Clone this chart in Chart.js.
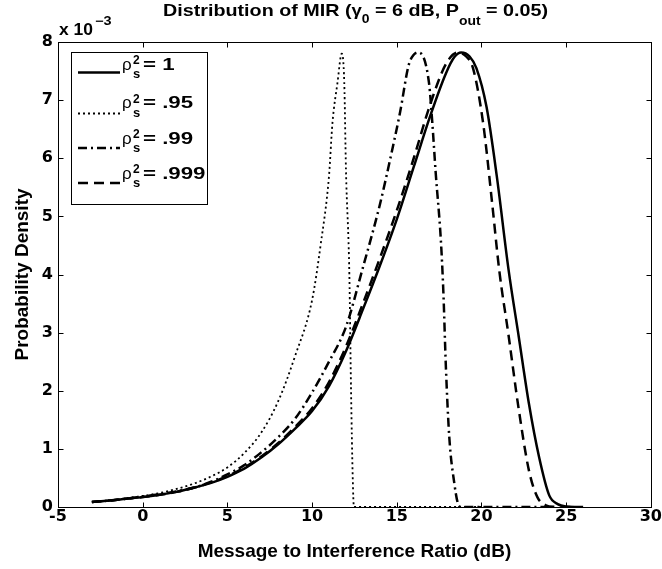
<!DOCTYPE html>
<html>
<head>
<meta charset="utf-8">
<script src="https://cdn.jsdelivr.net/npm/chart.js@4.4.1/dist/chart.umd.min.js"></script>
<style>
  html, body { margin: 0; padding: 0; background: #fff; }
  canvas { display: block; }
</style>
</head>
<body>
<canvas id="mirChart" width="662" height="569"></canvas>
<script>
// Значения кривых (плотность в единицах 10^-3)
const rho1X = [-3, -2, -1, 0, 1, 2, 3, 4, 5, 6, 7, 8, 9, 10, 11, 12, 13, 14, 15, 16, 17, 17.9, 18.4, 18.8, 19.3, 19.7, 20.3, 20.9, 21.6, 22.2, 22.8, 23.4, 24, 24.5, 25, 26];
const rho1Y = [0.086, 0.11, 0.14, 0.17, 0.21, 0.26, 0.33, 0.41, 0.52, 0.66, 0.85, 1.08, 1.35, 1.65, 2.08, 2.68, 3.4, 4.15, 4.95, 5.85, 6.75, 7.46, 7.74, 7.82, 7.75, 7.55, 6.88, 5.7, 4.08, 2.93, 1.78, 0.86, 0.2, 0.05, 0.01, 0];

const rho95X = [-3, -2, -1, 0, 1, 2, 3, 4, 5, 6, 7, 8, 9, 10, 10.5, 11, 11.2, 11.5, 11.75, 11.9, 12.0, 12.2, 12.3, 12.4, 12.47, 20];
const rho95Y = [0.086, 0.11, 0.15, 0.19, 0.24, 0.31, 0.4, 0.52, 0.68, 0.93, 1.28, 1.82, 2.6, 3.56, 4.5, 5.7, 6.6, 7.3, 7.8, 7.3, 5.8, 4.0, 2.0, 0.5, 0, 0];

const rho99X = [-3, -2, -1, 0, 1, 2, 3, 4, 5, 6, 7, 8, 9, 10, 11, 12, 13, 14, 14.6, 15.2, 15.7, 16.0, 16.3, 16.9, 17.1, 17.3, 17.6, 17.75, 17.9, 18.1, 18.4, 18.6, 18.8, 24];
const rho99Y = [0.086, 0.11, 0.14, 0.18, 0.22, 0.27, 0.33, 0.43, 0.56, 0.72, 0.94, 1.2, 1.52, 1.97, 2.5, 3.1, 4.12, 5.2, 5.97, 6.8, 7.6, 7.78, 7.82, 7.3, 6.6, 5.74, 4.6, 3.7, 2.4, 1.2, 0.4, 0.07, 0, 0];

const rho999X = [-3, -2, -1, 0, 1, 2, 3, 4, 5, 6, 7, 8, 9, 10, 11, 12, 13, 14, 15, 16, 17, 17.9, 18.6, 19.1, 19.5, 20.1, 20.65, 21.05, 21.6, 22.2, 22.8, 23.3, 23.8, 24.3, 25.5];
const rho999Y = [0.086, 0.11, 0.14, 0.17, 0.21, 0.26, 0.33, 0.42, 0.53, 0.68, 0.87, 1.1, 1.38, 1.7, 2.15, 2.76, 3.5, 4.28, 5.1, 6.0, 6.95, 7.62, 7.82, 7.75, 7.55, 6.6, 5.17, 4.07, 2.95, 1.68, 0.63, 0.17, 0.03, 0.005, 0];

// Подписи легенды (после "ρ")
const legendValues = ['1', '.95', '.99', '.999'];

// Оси
const xMin = -5, xMax = 30, xStep = 5;
const yMin = 0, yMax = 8, yStep = 1;

const SANS = "'Liberation Sans', Arial, sans-serif";

function toPoints(xs, ys) {
  return xs.map((x, i) => ({ x: x, y: ys[i] }));
}

// Стили линий в духе MATLAB
const lineStyles = [
  { dash: [], width: 2.5 },          // сплошная
  { dash: [2, 3], width: 1.8 },      // точки
  { dash: [9, 4, 2, 4], width: 2.5 },// штрих-пунктир
  { dash: [10, 6], width: 2.5 }      // штрихи
];

function makeDataset(label, xs, ys, style) {
  return {
    label: label,
    data: toPoints(xs, ys),
    borderColor: '#000',
    backgroundColor: '#000',
    borderWidth: style.width,
    borderDash: style.dash,
    pointRadius: 0,
    cubicInterpolationMode: 'monotone',
    fill: false
  };
}

// Текст с индексами, растянутый по ширине
function drawParts(ctx, parts, x, baseline, width) {
  let natural = 0;
  parts.forEach(p => { ctx.font = p.font; natural += ctx.measureText(p.text).width; });
  const sx = width ? width / natural : 1;
  ctx.save();
  ctx.translate(x, baseline);
  ctx.scale(sx, 1);
  let cx = 0;
  parts.forEach(p => {
    ctx.font = p.font;
    ctx.fillText(p.text, cx, p.dy || 0);
    cx += ctx.measureText(p.text).width;
  });
  ctx.restore();
}

const matlabFrame = {
  id: 'matlabFrame',
  beforeDraw(chart) {
    const ctx = chart.ctx;
    ctx.save();
    ctx.fillStyle = '#fff';
    ctx.fillRect(0, 0, chart.width, chart.height);
    ctx.restore();
  },
  afterDraw(chart) {
    const { ctx, chartArea: a, scales } = chart;
    const L = Math.round(a.left) + 0.5, R = Math.round(a.right) + 0.5;
    const T = Math.round(a.top) + 0.5, B = Math.round(a.bottom) + 0.5;
    ctx.save();
    ctx.strokeStyle = '#000';
    ctx.lineWidth = 1;
    ctx.setLineDash([]);
    ctx.strokeRect(L, T, R - L, B - T);

    // Засечки внутрь, на всех четырёх сторонах
    const tick = 5;
    ctx.beginPath();
    scales.x.ticks.forEach(t => {
      const px = Math.round(scales.x.getPixelForValue(t.value)) + 0.5;
      ctx.moveTo(px, B); ctx.lineTo(px, B - tick);
      ctx.moveTo(px, T); ctx.lineTo(px, T + tick);
    });
    scales.y.ticks.forEach(t => {
      const py = Math.round(scales.y.getPixelForValue(t.value)) + 0.5;
      ctx.moveTo(L, py); ctx.lineTo(L + tick, py);
      ctx.moveTo(R, py); ctx.lineTo(R - tick, py);
    });
    ctx.stroke();

    ctx.fillStyle = '#000';
    ctx.textBaseline = 'alphabetic';
    ctx.textAlign = 'left';

    // Заголовок
    const big = 'bold 17px ' + SANS, small = 'bold 12px ' + SANS;
    drawParts(ctx, [
      { text: 'Distribution of MIR (', font: big },
      { text: 'γ', font: 'bold 16px ' + SANS },
      { text: '0', font: small, dy: 6.5 },
      { text: ' = 6 dB, P', font: big },
      { text: 'out', font: small, dy: 9 },
      { text: ' = 0.05)', font: big }
    ], 163, 16, 385);

    // Множитель оси Y
    drawParts(ctx, [{ text: 'x 10', font: 'bold 16px ' + SANS }], 59, 35, 34);
    drawParts(ctx, [{ text: '−3', font: 'bold 12px ' + SANS }], 95, 25, 16.5);

    // Легенда
    const box = { left: 71, top: 52, right: 207, bottom: 204 };
    ctx.fillStyle = '#fff';
    ctx.fillRect(box.left, box.top, box.right - box.left, box.bottom - box.top);
    ctx.strokeRect(box.left + 0.5, box.top + 0.5, box.right - box.left, box.bottom - box.top);
    ctx.fillStyle = '#000';

    const baselines = [69.5, 108, 143.5, 178.5];
    const lineYs = [72.5, 113.5, 148, 183];
    ctx.font = 'bold 16px ' + SANS;
    const sx = 62.5 / ctx.measureText('= .999').width;
    chart.data.datasets.forEach((ds, i) => {
      ctx.save();
      ctx.lineWidth = ds.borderWidth;
      ctx.setLineDash(ds.borderDash);
      ctx.beginPath();
      ctx.moveTo(78, lineYs[i]);
      ctx.lineTo(120, lineYs[i]);
      ctx.stroke();
      ctx.restore();

      const b = baselines[i];
      ctx.font = '17px ' + SANS;
      ctx.fillText('ρ', 122, b);
      ctx.font = 'bold 12px ' + SANS;
      ctx.fillText('2', 133, b - 5.5);
      ctx.font = 'bold 13px ' + SANS;
      ctx.fillText('s', 133, b + 8.5);
      ctx.save();
      ctx.translate(143, b);
      ctx.scale(sx, 1);
      ctx.font = 'bold 16px ' + SANS;
      ctx.fillText('= ' + legendValues[i], 0, 0);
      ctx.restore();
    });
    ctx.restore();
  }
};

const tickFont = { family: 'DejaVu Sans', size: 16, weight: 'bold' };
const titleFont = { family: 'Liberation Sans', size: 19, weight: 'bold' };

const ctx = document.getElementById('mirChart').getContext('2d');
const mirChart = new Chart(ctx, {
  type: 'line',
  data: {
    datasets: [
      makeDataset('rho^2 = 1', rho1X, rho1Y, lineStyles[0]),
      makeDataset('rho^2 = .95', rho95X, rho95Y, lineStyles[1]),
      makeDataset('rho^2 = .99', rho99X, rho99Y, lineStyles[2]),
      makeDataset('rho^2 = .999', rho999X, rho999Y, lineStyles[3])
    ]
  },
  options: {
    responsive: false,
    animation: false,
    events: [],
    layout: { padding: { top: 42, right: 11, left: 0, bottom: 0 } },
    plugins: {
      legend: { display: false },
      tooltip: { enabled: false }
    },
    scales: {
      x: {
        type: 'linear',
        min: xMin,
        max: xMax,
        ticks: { stepSize: xStep, color: '#000', font: tickFont, padding: 0, maxRotation: 0 },
        grid: { display: false, drawTicks: false },
        border: { display: false },
        title: {
          display: true,
          text: 'Message to Interference Ratio (dB)',
          color: '#000',
          font: titleFont,
          padding: { top: 0, bottom: 6 }
        },
        afterFit: scale => { scale.height = 62; }
      },
      y: {
        type: 'linear',
        min: yMin,
        max: yMax,
        ticks: { stepSize: yStep, color: '#000', font: tickFont, padding: 5 },
        grid: { display: false, drawTicks: false },
        border: { display: false },
        title: {
          display: true,
          text: 'Probability Density',
          color: '#000',
          font: titleFont,
          padding: { top: 11, bottom: 0 }
        },
        afterFit: scale => { scale.width = 58; }
      }
    }
  },
  plugins: [matlabFrame]
});
</script>
</body>
</html>
